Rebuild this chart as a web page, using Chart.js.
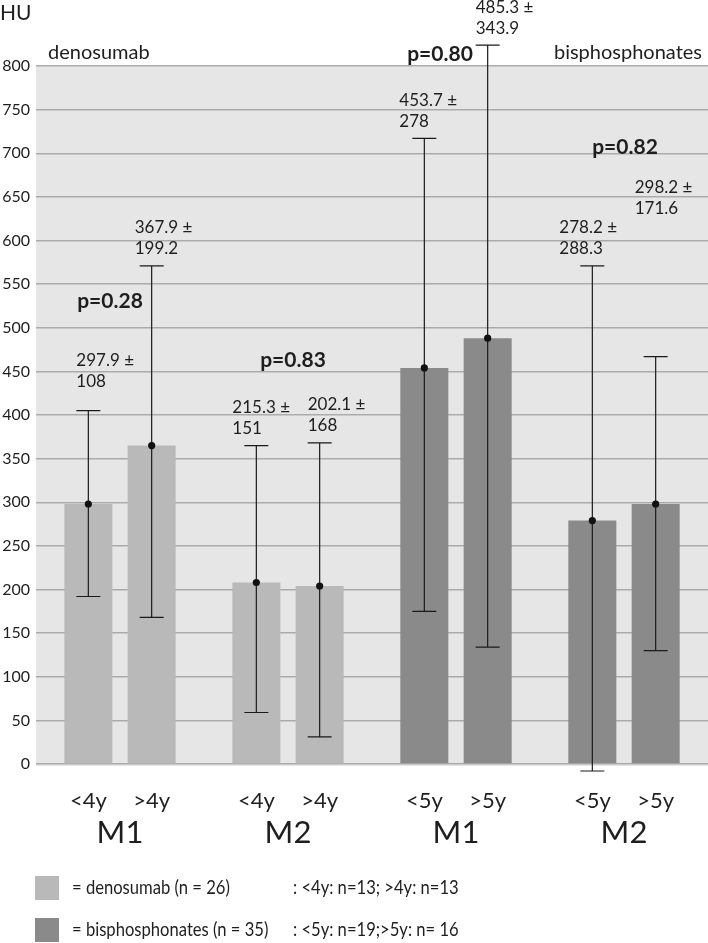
<!DOCTYPE html>
<html lang="en">
<head>
    <meta charset="UTF-8">
    <title>HU – denosumab vs bisphosphonates</title>
    <script src="https://cdn.jsdelivr.net/npm/chart.js"></script>
    <style>
        html, body { margin: 0; padding: 0; background: #fff; }
        canvas { display: block; }
    </style>
</head>
<body>
<canvas id="huChart" width="708" height="943"></canvas>
<script>
    // Groups on the x axis (one pair of bars per group)
    const groups = ['M1', 'M2', 'M1', 'M2'];
    const treatment = ['denosumab', 'denosumab', 'bisphosphonates', 'bisphosphonates'];
    const shortLabels = ['<4y', '<4y', '<5y', '<5y'];
    const longLabels = ['>4y', '>4y', '>5y', '>5y'];

    // Bar heights (mean HU)
    const shortMeans = [298, 208, 454, 279];
    const longMeans = [365, 204, 488, 298];

    // Error bar ends
    const shortLow = [192, 59, 175, -8];
    const shortHigh = [405, 365, 717, 571];
    const longLow = [168, 31, 134, 130];
    const longHigh = [571, 368, 824, 467];

    // Text above the bars
    const shortText = [['297.9 ±', '108'], ['215.3 ±', '151'], ['453.7 ±', '278'], ['278.2 ±', '288.3']];
    const longText = [['367.9 ±', '199.2'], ['202.1 ±', '168'], ['485.3 ±', '343.9'], ['298.2 ±', '171.6']];
    const pValues = ['p=0.28', 'p=0.83', 'p=0.80', 'p=0.82'];

    const legendLines = [
        ['= denosumab (n = 26)', ': <4y: n=13; >4y: n=13'],
        ['= bisphosphonates (n = 35)', ': <5y: n=19;>5y: n= 16']
    ];

    const colors = { denosumab: '#b9b9b9', bisphosphonates: '#8a8a8a' };
    const textColor = '#1e1e1e';
    const font = 'Lato, "Open Sans", sans-serif';

    const barColors = treatment.map(t => colors[t]);

    // Grey plot background
    const backgroundPlugin = {
        id: 'plotBackground',
        beforeDraw(chart) {
            const { ctx, chartArea } = chart;
            ctx.save();
            ctx.fillStyle = '#e6e6e6';
            ctx.fillRect(chartArea.left, chartArea.top, chartArea.right - chartArea.left, chartArea.bottom - chartArea.top + 2);
            ctx.restore();
        }
    };

    // Error bars + mean dots
    const errorBarPlugin = {
        id: 'errorBars',
        afterDatasetsDraw(chart) {
            const { ctx } = chart;
            const y = chart.scales.y;
            const lows = [shortLow, longLow];
            const highs = [shortHigh, longHigh];
            const means = [shortMeans, longMeans];
            ctx.save();
            ctx.strokeStyle = '#1a1a1a';
            ctx.fillStyle = '#111';
            ctx.lineWidth = 1.2;
            chart.data.datasets.forEach((ds, di) => {
                chart.getDatasetMeta(di).data.forEach((bar, i) => {
                    const x = bar.x;
                    const yl = y.getPixelForValue(lows[di][i]);
                    const yh = y.getPixelForValue(highs[di][i]);
                    ctx.beginPath();
                    ctx.moveTo(x, yl); ctx.lineTo(x, yh);
                    ctx.moveTo(x - 12, yl); ctx.lineTo(x + 12, yl);
                    ctx.moveTo(x - 12, yh); ctx.lineTo(x + 12, yh);
                    ctx.stroke();
                    ctx.beginPath();
                    ctx.arc(x, y.getPixelForValue(means[di][i]), 3.6, 0, Math.PI * 2);
                    ctx.fill();
                });
            });
            ctx.restore();
        }
    };

    // All the text around the plot
    const textPlugin = {
        id: 'texts',
        afterDraw(chart) {
            const { ctx, chartArea } = chart;
            const x = chart.scales.x;
            const y = chart.scales.y;
            const highs = [shortHigh, longHigh];
            const texts = [shortText, longText];
            // horizontal shift of the value text from the bar's left edge, extra lift above the cap
            const shiftX = [[12, 0, -1, -9], [7, 12, 12, 3]];
            const lift = [[12, 0, 0, 0], [0, 0, 0, 131]];
            const pShift = [-10, 5, -16, 1];
            const pAt = [530, 463, 814, 707];

            ctx.save();
            ctx.fillStyle = textColor;
            ctx.textBaseline = 'middle';

            // value ± sd labels
            ctx.font = `17px ${font}`;
            ctx.textAlign = 'left';
            chart.data.datasets.forEach((ds, di) => {
                chart.getDatasetMeta(di).data.forEach((bar, i) => {
                    const left = bar.x - bar.width / 2 + shiftX[di][i];
                    const cap = y.getPixelForValue(highs[di][i]) - lift[di][i];
                    ctx.fillText(texts[di][i][0], left, cap - 38);
                    ctx.fillText(texts[di][i][1], left, cap - 17);
                });
            });

            // p values
            ctx.font = `bold 21px ${font}`;
            ctx.textAlign = 'center';
            pValues.forEach((p, i) => {
                ctx.fillText(p, x.getPixelForValue(i) + pShift[i], y.getPixelForValue(pAt[i]));
            });

            // sub labels under each bar
            ctx.font = `22px ${font}`;
            [shortLabels, longLabels].forEach((labels, di) => {
                chart.getDatasetMeta(di).data.forEach((bar, i) => {
                    ctx.fillText(labels[i], bar.x, chartArea.bottom + 37);
                });
            });

            // group labels
            ctx.font = `31px ${font}`;
            groups.forEach((g, i) => {
                ctx.fillText(g, x.getPixelForValue(i), chartArea.bottom + 69);
            });

            // axis unit and treatment headers
            ctx.font = `21px ${font}`;
            ctx.textAlign = 'left';
            ctx.fillText('HU', 0, 13);
            ctx.font = `20px ${font}`;
            ctx.fillText('denosumab', chartArea.left + 12, chartArea.top - 13);
            ctx.textAlign = 'right';
            ctx.fillText('bisphosphonates', chartArea.right - 6, chartArea.top - 13);

            // legend (text squeezed to look like the condensed original)
            ctx.textAlign = 'left';
            ctx.font = `20px ${font}`;
            const squeeze = 0.83;
            const swatches = [colors.denosumab, colors.bisphosphonates];
            legendLines.forEach((line, i) => {
                const top = chartArea.bottom + 112 + i * 42;
                ctx.fillStyle = swatches[i];
                ctx.fillRect(35, top, 24, 24);
                ctx.fillStyle = textColor;
                ctx.save();
                ctx.scale(squeeze, 1);
                ctx.fillText(line[0], 72 / squeeze, top + 12);
                ctx.fillText(line[1], 293 / squeeze, top + 12);
                ctx.restore();
            });
            ctx.restore();
        }
    };

    const ctx = document.getElementById('huChart').getContext('2d');
    new Chart(ctx, {
        type: 'bar',
        data: {
            labels: groups,
            datasets: [{
                label: 'shorter',
                data: shortMeans,
                backgroundColor: barColors,
                categoryPercentage: 0.754,
                barPercentage: 0.758
            }, {
                label: 'longer',
                data: longMeans,
                backgroundColor: barColors,
                categoryPercentage: 0.754,
                barPercentage: 0.758
            }]
        },
        options: {
            responsive: false,
            animation: false,
            layout: { padding: { top: 66, bottom: 179, left: 0, right: 0 } },
            plugins: {
                legend: { display: false },
                tooltip: { enabled: false }
            },
            scales: {
                x: { display: false },
                y: {
                    min: 0,
                    max: 800,
                    afterFit(scale) { scale.width = 36; },
                    ticks: {
                        stepSize: 50,
                        padding: 6,
                        color: textColor,
                        font: { family: font, size: 16 }
                    },
                    grid: { color: '#ababab', lineWidth: 1.4, drawTicks: false },
                    border: { display: false }
                }
            }
        },
        plugins: [backgroundPlugin, errorBarPlugin, textPlugin]
    });
</script>
</body>
</html>
